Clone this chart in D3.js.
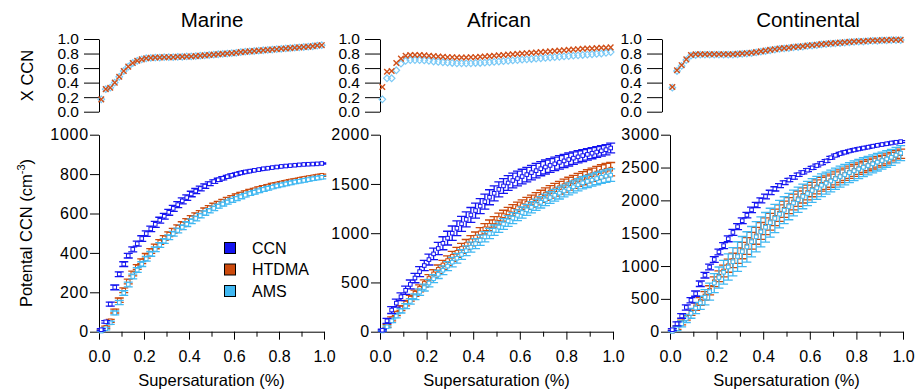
<!DOCTYPE html>
<html>
<head>
<meta charset="utf-8">
<script src="https://cdn.jsdelivr.net/npm/d3@7"></script>
<style>
  body { margin: 0; background: #fff; }
  svg { display: block; font-family: "Liberation Sans", Arial, sans-serif; }
  .tick text { font-size: 16px; fill: #000; }
  .ytop .tick text { font-size: 15.5px; }
  .ybot .tick text { letter-spacing: 0.8px; }
  .tick line, .domain { stroke: #000; stroke-width: 1px; }
</style>
</head>
<body>
<svg width="916" height="391"></svg>
<script>
// Supersaturation (%) bins
const supersat = [0.01, 0.03, 0.05, 0.07, 0.09, 0.11, 0.13, 0.15, 0.17, 0.19,
  0.21, 0.23, 0.25, 0.27, 0.29, 0.31, 0.33, 0.35, 0.37, 0.39,
  0.41, 0.43, 0.45, 0.47, 0.49, 0.51, 0.53, 0.55, 0.57, 0.59,
  0.61, 0.63, 0.65, 0.67, 0.69, 0.71, 0.73, 0.75, 0.77, 0.79,
  0.81, 0.83, 0.85, 0.87, 0.89, 0.91, 0.93, 0.95, 0.97, 0.99];

const regions = ["Marine", "African", "Continental"];
const seriesNames = ["CCN", "HTDMA", "AMS"];

// X CCN (closure ratio), top row
const marineXHtdma = [0.17, 0.31, 0.33, 0.40, 0.48, 0.56, 0.62, 0.67, 0.70, 0.72,
  0.735, 0.74, 0.745, 0.745, 0.75, 0.75, 0.75, 0.755, 0.755, 0.76,
  0.76, 0.765, 0.77, 0.775, 0.78, 0.785, 0.79, 0.795, 0.80, 0.805,
  0.81, 0.82, 0.825, 0.83, 0.835, 0.84, 0.845, 0.85, 0.855, 0.86,
  0.865, 0.87, 0.875, 0.88, 0.885, 0.89, 0.895, 0.90, 0.91, 0.915];
const marineXAms = [0.17, 0.31, 0.33, 0.40, 0.48, 0.56, 0.62, 0.67, 0.70, 0.72,
  0.735, 0.74, 0.745, 0.745, 0.75, 0.75, 0.75, 0.755, 0.755, 0.76,
  0.76, 0.765, 0.77, 0.775, 0.78, 0.785, 0.79, 0.795, 0.80, 0.805,
  0.81, 0.82, 0.825, 0.83, 0.835, 0.84, 0.845, 0.85, 0.855, 0.86,
  0.865, 0.87, 0.875, 0.88, 0.885, 0.89, 0.895, 0.90, 0.91, 0.915];
const africanXHtdma = [0.34, 0.55, 0.56, 0.67, 0.73, 0.77, 0.78, 0.78, 0.78, 0.775,
  0.77, 0.765, 0.76, 0.755, 0.75, 0.75, 0.745, 0.745, 0.745, 0.75,
  0.75, 0.755, 0.76, 0.765, 0.77, 0.775, 0.78, 0.785, 0.79, 0.795,
  0.80, 0.805, 0.81, 0.815, 0.82, 0.825, 0.83, 0.835, 0.84, 0.845,
  0.85, 0.855, 0.86, 0.865, 0.87, 0.87, 0.875, 0.88, 0.88, 0.885];
const africanXAms = [0.17, 0.46, 0.46, 0.57, 0.66, 0.70, 0.71, 0.71, 0.71, 0.705,
  0.70, 0.69, 0.685, 0.68, 0.675, 0.67, 0.665, 0.665, 0.665, 0.665,
  0.67, 0.67, 0.675, 0.68, 0.685, 0.69, 0.695, 0.70, 0.705, 0.71,
  0.715, 0.72, 0.725, 0.73, 0.735, 0.74, 0.745, 0.75, 0.755, 0.76,
  0.765, 0.77, 0.775, 0.78, 0.785, 0.79, 0.795, 0.80, 0.81, 0.82];
const contXHtdma = [0.34, 0.57, 0.64, 0.72, 0.78, 0.79, 0.79, 0.79, 0.79, 0.79,
  0.79, 0.79, 0.79, 0.79, 0.795, 0.80, 0.805, 0.81, 0.82, 0.83,
  0.84, 0.85, 0.86, 0.87, 0.875, 0.88, 0.89, 0.895, 0.90, 0.91,
  0.915, 0.92, 0.93, 0.935, 0.94, 0.945, 0.95, 0.955, 0.96, 0.965,
  0.97, 0.97, 0.975, 0.98, 0.98, 0.985, 0.985, 0.99, 0.99, 0.99];
const contXAms = [0.33, 0.56, 0.63, 0.71, 0.77, 0.78, 0.785, 0.785, 0.785, 0.785,
  0.785, 0.785, 0.785, 0.785, 0.79, 0.795, 0.80, 0.805, 0.815, 0.825,
  0.835, 0.845, 0.855, 0.865, 0.87, 0.875, 0.885, 0.89, 0.895, 0.905,
  0.91, 0.915, 0.925, 0.93, 0.935, 0.94, 0.945, 0.95, 0.955, 0.96,
  0.965, 0.965, 0.97, 0.975, 0.975, 0.98, 0.98, 0.985, 0.985, 0.985];

// Potential CCN (cm-3), bottom row: values and error bar half-widths
const marineCcn = [10, 50, 140, 225, 292, 343, 386, 418, 447, 473,
  498, 522, 545, 566, 586, 606, 626, 645, 664, 681,
  699, 714, 727, 739, 751, 762, 771, 779, 787, 794,
  800, 806, 811, 815, 819, 823, 827, 830, 833, 836,
  839, 841, 843, 845, 847, 849, 850, 851, 852, 854];
const marineCcnErr = [5, 6, 10, 12, 12, 12, 12, 13, 13, 14,
  14, 14, 15, 15, 15, 15, 15, 15, 15, 14,
  14, 13, 12, 11, 10, 9, 8, 8, 7, 7,
  6, 6, 6, 5, 5, 5, 5, 4, 4, 4,
  4, 4, 3, 3, 3, 3, 3, 3, 3, 3];
const marineHtdma = [5, 22, 55, 105, 160, 210, 255, 295, 328, 358,
  385, 410, 433, 455, 476, 495, 513, 530, 546, 562,
  577, 591, 604, 617, 629, 641, 652, 662, 672, 681,
  690, 698, 706, 713, 720, 727, 733, 739, 745, 750,
  755, 760, 765, 769, 774, 778, 782, 786, 790, 794];
const marineHtdmaErr = [4, 6, 8, 10, 11, 12, 12, 12, 12, 12,
  12, 12, 12, 12, 12, 12, 12, 12, 12, 12,
  12, 12, 11, 11, 11, 11, 10, 10, 10, 10,
  9, 9, 9, 9, 8, 8, 8, 8, 8, 7,
  7, 7, 7, 7, 6, 6, 6, 6, 6, 6];
const marineAms = [3, 15, 45, 95, 148, 196, 240, 280, 313, 343,
  370, 395, 418, 440, 460, 479, 497, 514, 530, 546,
  561, 575, 589, 602, 614, 626, 637, 648, 658, 667,
  676, 685, 693, 701, 708, 715, 722, 728, 734, 740,
  745, 750, 755, 760, 764, 768, 772, 776, 780, 784];
const marineAmsErr = [4, 6, 8, 10, 11, 12, 12, 12, 12, 12,
  12, 12, 12, 12, 12, 12, 12, 12, 12, 12,
  12, 12, 11, 11, 11, 11, 10, 10, 10, 10,
  10, 10, 9, 9, 9, 9, 9, 9, 8, 8,
  8, 8, 8, 8, 8, 8, 8, 8, 8, 8];

const africanCcn = [15, 110, 220, 290, 355, 420, 480, 545, 610, 672,
  732, 790, 845, 898, 950, 1000, 1050, 1095, 1140, 1185,
  1230, 1275, 1320, 1365, 1405, 1445, 1480, 1510, 1535, 1555,
  1575, 1595, 1615, 1635, 1655, 1672, 1688, 1704, 1719, 1734,
  1748, 1762, 1775, 1788, 1800, 1812, 1824, 1836, 1848, 1865];
const africanCcnErr = [10, 25, 35, 40, 40, 42, 45, 48, 50, 52,
  55, 58, 62, 66, 70, 73, 75, 76, 76, 76,
  76, 76, 76, 76, 76, 76, 75, 75, 75, 75,
  74, 74, 73, 73, 72, 71, 70, 69, 68, 67,
  66, 64, 62, 60, 58, 56, 55, 53, 52, 50];
const africanHtdma = [10, 60, 130, 185, 240, 290, 340, 390, 440, 490,
  540, 587, 633, 678, 722, 765, 806, 846, 885, 923,
  960, 1003, 1045, 1080, 1115, 1148, 1178, 1206, 1233, 1258,
  1280, 1303, 1326, 1350, 1374, 1397, 1419, 1441, 1462, 1483,
  1503, 1522, 1541, 1559, 1577, 1594, 1611, 1627, 1640, 1650];
const africanHtdmaErr = [8, 15, 20, 22, 25, 27, 30, 32, 35, 37,
  40, 42, 44, 46, 48, 50, 50, 51, 51, 52,
  52, 53, 53, 54, 54, 55, 55, 56, 57, 58,
  59, 60, 61, 62, 62, 63, 63, 64, 64, 65,
  65, 66, 66, 67, 67, 67, 68, 68, 68, 68];
const africanAms = [8, 50, 110, 160, 212, 260, 308, 355, 402, 448,
  494, 538, 582, 624, 666, 706, 746, 784, 822, 858,
  894, 929, 963, 997, 1030, 1062, 1093, 1124, 1153, 1182,
  1210, 1237, 1263, 1289, 1314, 1338, 1362, 1385, 1407, 1429,
  1450, 1471, 1491, 1511, 1526, 1540, 1555, 1568, 1580, 1590];
const africanAmsErr = [6, 12, 18, 20, 22, 25, 28, 30, 33, 35,
  38, 40, 42, 44, 46, 48, 49, 50, 50, 51,
  51, 52, 52, 52, 53, 53, 54, 54, 55, 55,
  56, 56, 57, 57, 58, 58, 59, 59, 60, 60,
  61, 61, 62, 62, 62, 63, 63, 63, 63, 63];

const contCcn = [30, 120, 240, 370, 480, 580, 730, 860, 985, 1100,
  1215, 1310, 1415, 1512, 1600, 1690, 1775, 1855, 1930, 2000,
  2060, 2120, 2175, 2225, 2270, 2310, 2350, 2390, 2425, 2460,
  2495, 2530, 2565, 2600, 2650, 2685, 2712, 2733, 2752, 2768,
  2783, 2797, 2810, 2825, 2838, 2850, 2862, 2874, 2885, 2895];
const contCcnErr = [15, 30, 35, 40, 40, 40, 42, 42, 43, 44,
  44, 45, 45, 45, 45, 44, 43, 42, 40, 38,
  36, 34, 32, 30, 28, 26, 25, 24, 23, 22,
  22, 21, 21, 20, 20, 20, 19, 19, 18, 18,
  18, 17, 17, 17, 16, 16, 16, 15, 15, 15];
const contHtdma = [10, 60, 140, 220, 300, 380, 460, 545, 630, 760,
  845, 925, 1005, 1085, 1160, 1235, 1305, 1385, 1460, 1535,
  1605, 1675, 1740, 1805, 1865, 1920, 1975, 2025, 2075, 2120,
  2165, 2205, 2245, 2270, 2300, 2335, 2368, 2398, 2428, 2456,
  2483, 2510, 2535, 2560, 2585, 2608, 2632, 2656, 2685, 2710];
const contHtdmaErr = [10, 25, 35, 45, 50, 55, 60, 65, 70, 75,
  82, 90, 100, 110, 118, 124, 127, 128, 128, 128,
  128, 127, 126, 125, 124, 122, 120, 118, 115, 112,
  110, 107, 105, 102, 100, 98, 96, 94, 92, 90,
  88, 86, 84, 82, 80, 78, 76, 74, 72, 70];
const contAms = [5, 45, 120, 200, 280, 360, 440, 525, 610, 740,
  825, 905, 985, 1065, 1145, 1220, 1290, 1370, 1445, 1520,
  1590, 1660, 1725, 1790, 1850, 1905, 1960, 2010, 2060, 2105,
  2150, 2190, 2230, 2262, 2295, 2330, 2362, 2392, 2422, 2450,
  2478, 2505, 2530, 2556, 2582, 2606, 2630, 2656, 2690, 2720];
const contAmsErr = [10, 30, 45, 60, 75, 85, 100, 115, 130, 145,
  160, 180, 200, 215, 225, 230, 232, 232, 230, 228,
  225, 220, 215, 210, 205, 200, 196, 192, 188, 184,
  180, 176, 172, 168, 165, 162, 159, 156, 153, 150,
  147, 144, 141, 138, 135, 130, 126, 122, 118, 115];

// Axis ticks
const xTicks = [0, 0.1, 0.2, 0.3, 0.4, 0.5, 0.6, 0.7, 0.8, 0.9, 1.0];
const xRatioTicks = [0, 0.2, 0.4, 0.6, 0.8, 1.0];
const marineTicks = [0, 200, 400, 600, 800, 1000];
const africanTicks = [0, 500, 1000, 1500, 2000];
const contTicks = [0, 500, 1000, 1500, 2000, 2500, 3000];

// Colors
const colors = { CCN: "#1414f0", HTDMA: "#cc4a0c", AMS: "#40b8f2" };
const ratioColors = { HTDMA: "#d0501a", AMS: "#7ccaf6" };

// Layout
const topY = [111.7, 39];
const botY = [331.7, 134.7];

const panels = [
  { name: regions[0], x: [99, 324], topAxisX: 99, titleX: 212, ymax: 1000, ticks: marineTicks,
    ratio: { HTDMA: marineXHtdma, AMS: marineXAms },
    series: { CCN: [marineCcn, marineCcnErr], HTDMA: [marineHtdma, marineHtdmaErr], AMS: [marineAms, marineAmsErr] } },
  { name: regions[1], x: [380, 613], topAxisX: 380, titleX: 499, ymax: 2000, ticks: africanTicks,
    ratio: { HTDMA: africanXHtdma, AMS: africanXAms },
    series: { CCN: [africanCcn, africanCcnErr], HTDMA: [africanHtdma, africanHtdmaErr], AMS: [africanAms, africanAmsErr] } },
  { name: regions[2], x: [670, 903], topAxisX: 662, titleX: 808, ymax: 3000, ticks: contTicks,
    ratio: { HTDMA: contXHtdma, AMS: contXAms },
    series: { CCN: [contCcn, contCcnErr], HTDMA: [contHtdma, contHtdmaErr], AMS: [contAms, contAmsErr] } }
];

const svg = d3.select("svg");

panels.forEach(p => {
  const x = d3.scaleLinear().domain([0, 1]).range(p.x);
  const yTop = d3.scaleLinear().domain([0, 1]).range(topY);
  const yBot = d3.scaleLinear().domain([0, p.ymax]).range(botY);
  const g = svg.append("g");

  // Title
  g.append("text")
    .attr("x", p.titleX).attr("y", 27)
    .attr("text-anchor", "middle")
    .style("font-size", "20.5px")
    .text(p.name);

  // Top axis (X CCN)
  g.append("g")
    .attr("class", "ytop")
    .attr("transform", `translate(${p.topAxisX},0)`)
    .call(d3.axisLeft(yTop).tickValues(xRatioTicks).tickFormat(d3.format(".1f"))
      .tickSize(15).tickSizeOuter(0).tickPadding(5));

  // Top markers: AMS open diamonds, then HTDMA crosses on top
  g.append("g").selectAll("path")
    .data(supersat.map((s, i) => [s, p.ratio.AMS[i]]))
    .join("path")
    .attr("d", "M0,-3.3L3.3,0L0,3.3L-3.3,0Z")
    .attr("transform", d => `translate(${x(d[0])},${yTop(d[1])})`)
    .attr("fill", "none")
    .attr("stroke", ratioColors.AMS)
    .attr("stroke-width", 1.2);

  g.append("g").selectAll("path")
    .data(supersat.map((s, i) => [s, p.ratio.HTDMA[i]]))
    .join("path")
    .attr("d", "M-2.8,-2.8L2.8,2.8M-2.8,2.8L2.8,-2.8")
    .attr("transform", d => `translate(${x(d[0])},${yTop(d[1])})`)
    .attr("fill", "none")
    .attr("stroke", ratioColors.HTDMA)
    .attr("stroke-width", 1.4);

  // Bottom axes
  g.append("g")
    .attr("class", "ybot")
    .attr("transform", `translate(${p.x[0]},0)`)
    .call(d3.axisLeft(yBot).tickValues(p.ticks).tickFormat(d3.format("d"))
      .tickSize(9).tickSizeOuter(0).tickPadding(1));

  const xa = g.append("g")
    .attr("transform", `translate(0,${botY[0]})`)
    .call(d3.axisBottom(x).tickValues(xTicks).tickFormat(d3.format(".1f"))
      .tickSize(8).tickSizeOuter(0).tickPadding(11));
  xa.selectAll(".tick").filter((d, i) => i % 2 === 1)
    .call(t => t.select("line").attr("y2", 5))
    .call(t => t.select("text").remove());

  g.append("text")
    .attr("x", (p.x[0] + p.x[1]) / 2).attr("y", 386)
    .attr("text-anchor", "middle")
    .style("font-size", "16.5px")
    .text("Supersaturation (%)");

  // Error bars + open squares, drawn HTDMA, AMS, CCN
  ["HTDMA", "AMS", "CCN"].forEach(name => {
    const [vals, errs] = p.series[name];
    const pts = supersat.map((s, i) => ({ s, v: vals[i], e: errs[i] }));
    const sg = g.append("g").attr("stroke", colors[name]).attr("fill", "none");
    sg.selectAll(".bar").data(pts).join("path")
      .attr("class", "bar")
      .attr("stroke-width", 1.3)
      .attr("d", d => {
        const cx = x(d.s), y0 = yBot(Math.max(0, d.v - d.e)), y1 = yBot(d.v + d.e);
        return `M${cx},${y0}V${y1}M${cx - 4.5},${y0}H${cx + 4.5}M${cx - 4.5},${y1}H${cx + 4.5}`;
      });
    sg.selectAll("rect").data(pts).join("rect")
      .attr("x", d => x(d.s) - 1.8).attr("y", d => yBot(d.v) - 1.8)
      .attr("width", 3.6).attr("height", 3.6)
      .attr("fill", "#fff").attr("stroke-width", 1);
  });
});

// Y axis titles
svg.append("text")
  .attr("transform", "translate(33,75.5) rotate(-90)")
  .attr("text-anchor", "middle")
  .style("font-size", "16.5px")
  .text("X CCN");

const yt = svg.append("text")
  .attr("transform", "translate(32,233) rotate(-90)")
  .attr("text-anchor", "middle")
  .style("font-size", "16.5px");
yt.append("tspan").text("Potental CCN (cm");
yt.append("tspan").attr("dy", -7).style("font-size", "11px").text("-3");
yt.append("tspan").attr("dy", 7).text(")");

// Legend
const legend = svg.append("g").attr("transform", "translate(224,242)");
seriesNames.forEach((name, i) => {
  legend.append("rect")
    .attr("x", 0.5).attr("y", i * 21.5 + 0.5)
    .attr("width", 11).attr("height", 11)
    .attr("fill", colors[name]).attr("stroke", "#000").attr("stroke-width", 1);
  legend.append("text")
    .attr("x", 28).attr("y", i * 21.5 + 11.5)
    .style("font-size", "16px")
    .text(name);
});
</script>
</body>
</html>
